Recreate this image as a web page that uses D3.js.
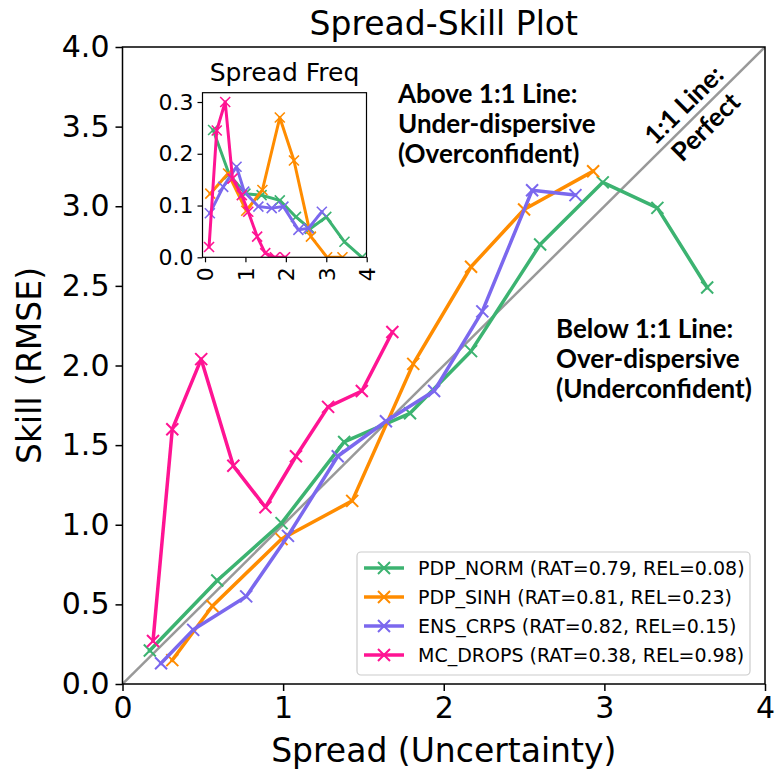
<!DOCTYPE html>
<html>
<head>
<meta charset="utf-8">
<script src="https://cdn.jsdelivr.net/npm/d3@7"></script>
<style>
  html, body { margin: 0; padding: 0; background: #fff; }
  svg { display: block; }
  .tick text { font-family: "DejaVu Sans", sans-serif; fill: #000; }
  .note { font-family: Lato, "Open Sans", sans-serif; font-weight: 700; fill: #000; }
</style>
</head>
<body>
<svg id="chart" width="775" height="771"></svg>
<script>
// ---- data: mean spread vs. RMSE per spread bin ----
const modelNames = ["PDP_NORM", "PDP_SINH", "ENS_CRPS", "MC_DROPS"];
const ratValues = ["0.79", "0.81", "0.82", "0.38"];
const relValues = ["0.08", "0.23", "0.15", "0.98"];
const modelColors = ["#3cb371", "#ff8c00", "#7b68ee", "#ff1493"];

const normSpread = [0.17, 0.59, 0.99, 1.38, 1.79, 2.17, 2.60, 2.99, 3.33, 3.64];
const normSkill  = [0.21, 0.65, 1.01, 1.52, 1.70, 2.09, 2.76, 3.15, 2.99, 2.49];
const sinhSpread = [0.31, 0.56, 0.99, 1.43, 1.81, 2.17, 2.50, 2.93];
const sinhSkill  = [0.15, 0.49, 0.91, 1.15, 2.01, 2.62, 2.98, 3.22];
const crpsSpread = [0.24, 0.44, 0.77, 1.03, 1.34, 1.64, 1.94, 2.24, 2.55, 2.82];
const crpsSkill  = [0.13, 0.34, 0.55, 0.93, 1.43, 1.65, 1.84, 2.34, 3.10, 3.07];
const dropsSpread = [0.19, 0.31, 0.49, 0.69, 0.89, 1.08, 1.28, 1.49, 1.68];
const dropsSkill  = [0.27, 1.60, 2.04, 1.37, 1.11, 1.43, 1.74, 1.84, 2.21];

// ---- data: spread frequency per bin (inset) ----
const normFreqX = [0.20, 0.60, 1.00, 1.40, 1.85, 2.25, 2.60, 3.00, 3.45, 3.88];
const normFreqY = [0.246, 0.160, 0.123, 0.120, 0.110, 0.078, 0.055, 0.078, 0.030, 0.0];
const sinhFreqX = [0.13, 0.57, 1.02, 1.42, 1.85, 2.20, 2.62, 3.02, 3.40];
const sinhFreqY = [0.123, 0.162, 0.090, 0.130, 0.270, 0.187, 0.040, 0.0, 0.0];
const crpsFreqX = [0.12, 0.45, 0.78, 0.97, 1.32, 1.65, 1.94, 2.31, 2.56, 2.89];
const crpsFreqY = [0.085, 0.136, 0.175, 0.127, 0.098, 0.095, 0.098, 0.053, 0.056, 0.088];
const dropsFreqX = [0.10, 0.29, 0.50, 0.68, 0.91, 1.07, 1.29, 1.49, 1.73, 1.98];
const dropsFreqY = [0.020, 0.245, 0.300, 0.152, 0.120, 0.088, 0.040, 0.008, 0.0, 0.0];

// ---- axis ticks ----
const mainXTicks = [0, 1, 2, 3, 4];
const mainYTicks = [0, 0.5, 1, 1.5, 2, 2.5, 3, 3.5, 4];
const insetXTicks = [0, 1, 2, 3, 4];
const insetYTicks = [0, 0.1, 0.2, 0.3];

const zip = (xs, ys) => xs.map((x, i) => [x, ys[i]]);
const mainSeries = [
  zip(normSpread, normSkill), zip(sinhSpread, sinhSkill),
  zip(crpsSpread, crpsSkill), zip(dropsSpread, dropsSkill)
];
const freqSeries = [
  zip(normFreqX, normFreqY), zip(sinhFreqX, sinhFreqY),
  zip(crpsFreqX, crpsFreqY), zip(dropsFreqX, dropsFreqY)
];

const svg = d3.select("#chart");

// ---- main axes ----
const M = { left: 122.5, right: 765, top: 47, bottom: 684 };
const x = d3.scaleLinear().domain([0, 4]).range([M.left, M.right]);
const y = d3.scaleLinear().domain([0, 4]).range([M.bottom, M.top]);

const clip = svg.append("clipPath").attr("id", "mainClip")
  .append("rect").attr("x", M.left).attr("y", M.top)
  .attr("width", M.right - M.left).attr("height", M.bottom - M.top);

const xAxis = svg.append("g").attr("transform", `translate(0,${M.bottom})`)
  .call(d3.axisBottom(x).tickValues(mainXTicks).tickFormat(d3.format("d"))
    .tickSize(7).tickPadding(6).tickSizeOuter(0));
const yAxis = svg.append("g").attr("transform", `translate(${M.left},0)`)
  .call(d3.axisLeft(y).tickValues(mainYTicks).tickFormat(d3.format(".1f"))
    .tickSize(7).tickPadding(6).tickSizeOuter(0));
[xAxis, yAxis].forEach(g => {
  g.select(".domain").remove();
  g.selectAll(".tick line").attr("stroke", "#000").attr("stroke-width", 1.5);
  g.selectAll(".tick text").style("font-size", "30px");
});

const plot = svg.append("g").attr("clip-path", "url(#mainClip)");

// 1:1 reference line
plot.append("line")
  .attr("x1", x(0)).attr("y1", y(0)).attr("x2", x(4)).attr("y2", y(4))
  .attr("stroke", "#999").attr("stroke-width", 2.5);

const line = d3.line().x(d => x(d[0])).y(d => y(d[1]));

function crossPath(cx, cy, r) {
  return `M${cx - r},${cy - r}L${cx + r},${cy + r}M${cx - r},${cy + r}L${cx + r},${cy - r}`;
}

function drawSeries(layer, data, color, lineFn, sx, sy, lw, r, mw) {
  layer.append("path").datum(data)
    .attr("d", lineFn).attr("fill", "none")
    .attr("stroke", color).attr("stroke-width", lw)
    .attr("stroke-linejoin", "round").attr("stroke-linecap", "square");
  layer.append("g").selectAll("path").data(data).join("path")
    .attr("d", d => crossPath(sx(d[0]), sy(d[1]), r))
    .attr("stroke", color).attr("stroke-width", mw).attr("fill", "none");
}

mainSeries.forEach((s, i) => drawSeries(plot, s, modelColors[i], line, x, y, 3.5, 6, 2));

// frame
svg.append("rect")
  .attr("x", M.left).attr("y", M.top)
  .attr("width", M.right - M.left).attr("height", M.bottom - M.top)
  .attr("fill", "none").attr("stroke", "#000").attr("stroke-width", 1.5);

// titles
svg.append("text").attr("x", (M.left + M.right) / 2).attr("y", 35)
  .attr("text-anchor", "middle")
  .style("font-family", "DejaVu Sans, sans-serif").style("font-size", "33px")
  .text("Spread-Skill Plot");
svg.append("text").attr("x", (M.left + M.right) / 2).attr("y", 762)
  .attr("text-anchor", "middle")
  .style("font-family", "DejaVu Sans, sans-serif").style("font-size", "33px")
  .text("Spread (Uncertainty)");
svg.append("text")
  .attr("transform", `translate(41,${(M.top + M.bottom) / 2}) rotate(-90)`)
  .attr("text-anchor", "middle")
  .style("font-family", "DejaVu Sans, sans-serif").style("font-size", "33px")
  .text("Skill (RMSE)");

// ---- annotations ----
function multiline(xp, yp, lines, size, gap) {
  const t = svg.append("text").attr("class", "note")
    .attr("x", xp).attr("y", yp).style("font-size", size + "px");
  lines.forEach((s, i) => t.append("tspan").attr("x", xp).attr("y", yp + i * gap).text(s));
}
multiline(398, 103, ["Above 1:1 Line:", "Under-dispersive", "(Overconfident)"], 26, 30);
multiline(556, 338, ["Below 1:1 Line:", "Over-dispersive", "(Underconfident)"], 26, 30);

const diagAt = 3.565;
const angle = Math.atan2(y(4) - y(0), x(4) - x(0)) * 180 / Math.PI;
const perf = svg.append("g")
  .attr("transform", `translate(${x(diagAt)},${y(diagAt)}) rotate(${angle})`);
perf.append("text").attr("class", "note").attr("text-anchor", "middle")
  .attr("y", -7).style("font-size", "26px").text("1:1 Line:");
perf.append("text").attr("class", "note").attr("text-anchor", "middle")
  .attr("y", 24).style("font-size", "26px").text("Perfect");

// ---- legend ----
const L = { x: 357, y: 552, w: 393, h: 123, row0: 568, gap: 29 };
svg.append("rect").attr("x", L.x).attr("y", L.y).attr("width", L.w).attr("height", L.h)
  .attr("rx", 4).attr("fill", "#fff").attr("fill-opacity", 0.85)
  .attr("stroke", "#ccc").attr("stroke-width", 1.2);
modelNames.forEach((name, i) => {
  const ry = L.row0 + i * L.gap;
  const c = modelColors[i];
  svg.append("line").attr("x1", L.x + 7).attr("x2", L.x + 47).attr("y1", ry).attr("y2", ry)
    .attr("stroke", c).attr("stroke-width", 3.5);
  svg.append("path").attr("d", crossPath(L.x + 27, ry, 6))
    .attr("stroke", c).attr("stroke-width", 2).attr("fill", "none");
  svg.append("text").attr("x", L.x + 61).attr("y", ry).attr("dy", "0.36em")
    .style("font-family", "DejaVu Sans, sans-serif").style("font-size", "19px")
    .text(`${name} (RAT=${ratValues[i]}, REL=${relValues[i]})`);
});

// ---- inset: spread frequency ----
const I = { left: 202.5, right: 366.5, top: 92.7, bottom: 257.3 };
const ix = d3.scaleLinear().domain([-0.062, 3.995]).range([I.left, I.right]);
const iy = d3.scaleLinear().domain([0, 0.318]).range([I.bottom, I.top]);

svg.append("rect").attr("x", I.left).attr("y", I.top)
  .attr("width", I.right - I.left).attr("height", I.bottom - I.top).attr("fill", "#fff");

svg.append("clipPath").attr("id", "insetClip")
  .append("rect").attr("x", I.left).attr("y", I.top - 8)
  .attr("width", I.right - I.left).attr("height", I.bottom - I.top + 8);

const ixAxis = svg.append("g").attr("transform", `translate(0,${I.bottom})`)
  .call(d3.axisBottom(ix).tickValues(insetXTicks).tickFormat(d3.format("d"))
    .tickSize(5).tickPadding(4).tickSizeOuter(0));
ixAxis.selectAll(".tick text")
  .attr("transform", "rotate(-90)")
  .attr("text-anchor", "end").attr("x", -10).attr("y", 0).attr("dy", "0.36em");
const iyAxis = svg.append("g").attr("transform", `translate(${I.left},0)`)
  .call(d3.axisLeft(iy).tickValues(insetYTicks).tickFormat(d3.format(".1f"))
    .tickSize(5).tickPadding(4).tickSizeOuter(0));
[ixAxis, iyAxis].forEach(g => {
  g.select(".domain").remove();
  g.selectAll(".tick line").attr("stroke", "#000").attr("stroke-width", 1.2);
  g.selectAll(".tick text").style("font-size", "22px");
});

const insetLayer = svg.append("g").attr("clip-path", "url(#insetClip)");
const iline = d3.line().x(d => ix(d[0])).y(d => iy(d[1]));
freqSeries.forEach((s, i) => drawSeries(insetLayer, s, modelColors[i], iline, ix, iy, 3, 5, 1.6));

svg.append("rect").attr("x", I.left).attr("y", I.top)
  .attr("width", I.right - I.left).attr("height", I.bottom - I.top)
  .attr("fill", "none").attr("stroke", "#000").attr("stroke-width", 1.2);

svg.append("text").attr("x", (I.left + I.right) / 2).attr("y", 81)
  .attr("text-anchor", "middle")
  .style("font-family", "DejaVu Sans, sans-serif").style("font-size", "25px")
  .text("Spread Freq");
</script>
</body>
</html>
